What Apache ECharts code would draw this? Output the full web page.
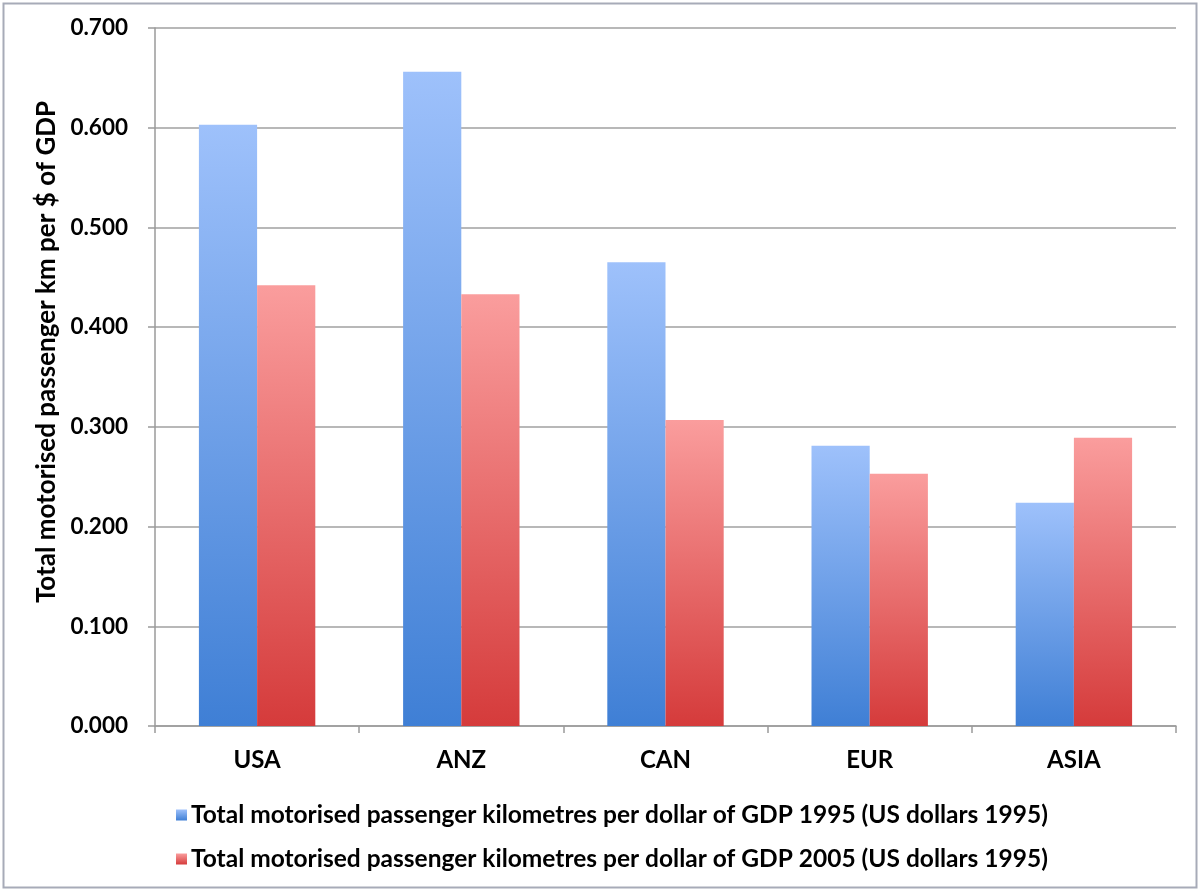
<!DOCTYPE html>
<html>
<head>
<meta charset="utf-8">
<script src="https://cdn.jsdelivr.net/npm/echarts@6/dist/echarts.min.js"></script>
<style>
  html, body { margin: 0; padding: 0; background: #ffffff; }
  #chart { width: 1202px; height: 891px; }
</style>
</head>
<body>
<div id="chart"></div>
<script>
// Regions compared
var categories = ['USA', 'ANZ', 'CAN', 'EUR', 'ASIA'];

// Passenger km per dollar of GDP
var values1995 = [0.603, 0.656, 0.465, 0.281, 0.224];
var values2005 = [0.442, 0.433, 0.307, 0.253, 0.289];

var seriesNames = [
  'Total motorised passenger kilometres per dollar of GDP 1995 (US dollars 1995)',
  'Total motorised passenger kilometres per dollar of GDP 2005 (US dollars 1995)'
];
var yAxisTitle = 'Total motorised passenger km per $ of GDP';

var FONT = 'Lato, "Open Sans", sans-serif';

function vGrad(top, bottom) {
  return new echarts.graphic.LinearGradient(0, 0, 0, 1, [
    { offset: 0, color: top },
    { offset: 1, color: bottom }
  ]);
}

var chart = echarts.init(document.getElementById('chart'), null, { renderer: 'canvas' });

chart.setOption({
  backgroundColor: '#ffffff',
  animation: false,
  graphic: [
    {
      type: 'rect',
      shape: { x: 3.5, y: 3.5, width: 1193, height: 884 },
      style: { fill: 'none', stroke: '#a7abb8', lineWidth: 2 },
      silent: true
    },
    {
      type: 'text',
      rotation: Math.PI / 2,
      x: 47, y: 352,
      style: {
        text: yAxisTitle,
        fontFamily: FONT,
        fontWeight: 'bold',
        fontSize: 26,
        fill: '#000000',
        align: 'center',
        verticalAlign: 'middle'
      }
    }
  ],
  grid: { left: 155, right: 26, top: 28, bottom: 165, containLabel: false },
  legend: {
    orient: 'vertical',
    left: 171,
    top: 797,
    itemWidth: 11,
    itemHeight: 11,
    itemGap: 18,
    icon: 'rect',
    textStyle: { fontFamily: FONT, fontWeight: 'bold', fontSize: 24.5, lineHeight: 26, color: '#000000', padding: [0, 0, 0, -1] },
    data: seriesNames
  },
  xAxis: {
    type: 'category',
    data: categories,
    axisLine: { lineStyle: { color: '#9a9a9a', width: 1.5 } },
    axisTick: { show: true, length: 7, lineStyle: { color: '#9a9a9a', width: 1.5 } },
    axisLabel: { fontFamily: FONT, fontWeight: 'bold', fontSize: 24, color: '#000000', margin: 22 }
  },
  yAxis: {
    type: 'value',
    min: 0,
    max: 0.7,
    interval: 0.1,
    axisLine: { show: true, lineStyle: { color: '#9a9a9a', width: 1.5 } },
    axisTick: { show: true, length: 7, lineStyle: { color: '#9a9a9a', width: 1.5 } },
    splitLine: { show: true, lineStyle: { color: '#a0a0a0', width: 1.5 } },
    axisLabel: {
      fontFamily: FONT, fontWeight: 'bold', fontSize: 22.5, color: '#000000', margin: 27,
      formatter: function (v) { return v.toFixed(3); }
    }
  },
  series: [
    {
      name: seriesNames[0],
      type: 'bar',
      data: values1995,
      barGap: '0%',
      barCategoryGap: '43%',
      itemStyle: { color: vGrad('#9ec1fb', '#3f7fd5') }
    },
    {
      name: seriesNames[1],
      type: 'bar',
      data: values2005,
      itemStyle: { color: vGrad('#fa9d9d', '#d53b3b') }
    }
  ]
});
</script>
</body>
</html>
